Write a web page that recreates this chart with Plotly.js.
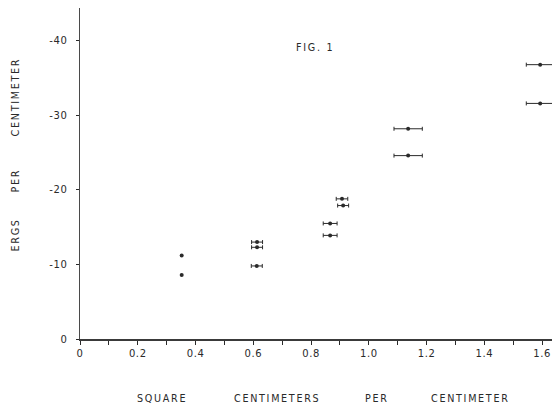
<!DOCTYPE html>
<html>
<head>
<meta charset="utf-8">
<script src="https://cdn.plot.ly/plotly-3.0.1.min.js"></script>
<style>
  html, body { margin: 0; padding: 0; background: #fff; }
  #chart { width: 552px; height: 410px; }
  .annotation-text { letter-spacing: 1.7px; }
  .xtick text, .ytick text { letter-spacing: 0.6px; }
</style>
</head>
<body>
<div id="chart"></div>
<script>
// Points without error bars (x = sq. cm per cm, y = ergs per cm)
const plainX = [0.352, 0.352];
const plainY = [-11.2, -8.6];

// Points with horizontal error bars
const barX   = [0.613, 0.613, 0.612, 0.866, 0.866, 0.907, 0.911, 1.136, 1.136, 1.593, 1.593];
const barY   = [-13.0, -12.3, -9.8, -15.5, -13.9, -18.8, -17.9, -28.2, -24.6, -36.8, -31.6];
const barErr = [0.019, 0.019, 0.019, 0.024, 0.024, 0.020, 0.019, 0.049, 0.049, 0.048, 0.048];

// Axis ticks
const xTickVals  = [0, 0.2, 0.4, 0.6, 0.8, 1.0, 1.2, 1.4, 1.6];
const xTickText  = ["0", "0.2", "0.4", "0.6", "0.8", "1.0", "1.2", "1.4", "1.6"];
const yTickVals  = [0, -10, -20, -30, -40];
const yTickText  = ["0", "-10", "-20", "-30", "-40"];

// Text labels
const figLabel = "FIG. 1";
const yTitleWords = ["ERGS", "PER", "CENTIMETER"];
const xTitleWords = ["SQUARE", "CENTIMETERS", "PER", "CENTIMETER"];

const ink = "#2a2a2a";
const font = { family: "DejaVu Sans, sans-serif", size: 9.6, color: ink };

const traces = [
  {
    type: "scatter", mode: "markers",
    x: plainX, y: plainY,
    marker: { size: 4, color: ink },
    hoverinfo: "skip", showlegend: false
  },
  {
    type: "scatter", mode: "markers",
    x: barX, y: barY,
    marker: { size: 4, color: ink },
    error_x: { type: "data", array: barErr, visible: true, color: ink, thickness: 1, width: 2 },
    hoverinfo: "skip", showlegend: false
  }
];

const yPos = [0.314, 0.480, 0.731];
const xPos = [0.173, 0.417, 0.629, 0.828];
const annotations = [
  { text: figLabel, xref: "paper", yref: "paper", x: 0.498, y: 0.882,
    xanchor: "center", yanchor: "middle",
    showarrow: false, font: { family: font.family, size: 9.6, color: ink } }
];
yTitleWords.forEach((w, i) => annotations.push({
  text: w, xref: "paper", yref: "paper", x: -0.137, y: yPos[i], textangle: -90,
  xanchor: "center", yanchor: "middle",
  showarrow: false, font: font
}));
xTitleWords.forEach((w, i) => annotations.push({
  text: w, xref: "paper", yref: "paper", x: xPos[i], y: -0.181,
  xanchor: "center", yanchor: "middle",
  showarrow: false, font: font
}));

const layout = {
  width: 552, height: 410,
  margin: { l: 80, r: 0, t: 8, b: 71, pad: 0 },
  paper_bgcolor: "#fff", plot_bgcolor: "#fff",
  showlegend: false,
  font: { family: font.family, size: 10, color: ink },
  xaxis: {
    range: [0, 1.634],
    tickvals: xTickVals, ticktext: xTickText,
    ticks: "outside", ticklen: 4, tickwidth: 1, tickcolor: ink,
    minor: { dtick: 0.1, tick0: 0, ticks: "outside", ticklen: 4, tickwidth: 1, tickcolor: ink },
    showline: true, linecolor: "#3a3a3a", linewidth: 2,
    showgrid: false, zeroline: false,
    tickfont: { family: font.family, size: 10, color: ink },
    fixedrange: true
  },
  yaxis: {
    range: [0, -44.4],
    tickvals: yTickVals, ticktext: yTickText,
    ticks: "outside", ticklen: 3, tickwidth: 1, tickcolor: ink,
    showline: true, linecolor: "#4a4a4a", linewidth: 1.5,
    showgrid: false, zeroline: false,
    tickfont: { family: font.family, size: 10, color: ink },
    ticklabelstandoff: 6,
    fixedrange: true
  },
  annotations: annotations
};

Plotly.newPlot("chart", traces, layout, { staticPlot: true, displayModeBar: false });
</script>
</body>
</html>
